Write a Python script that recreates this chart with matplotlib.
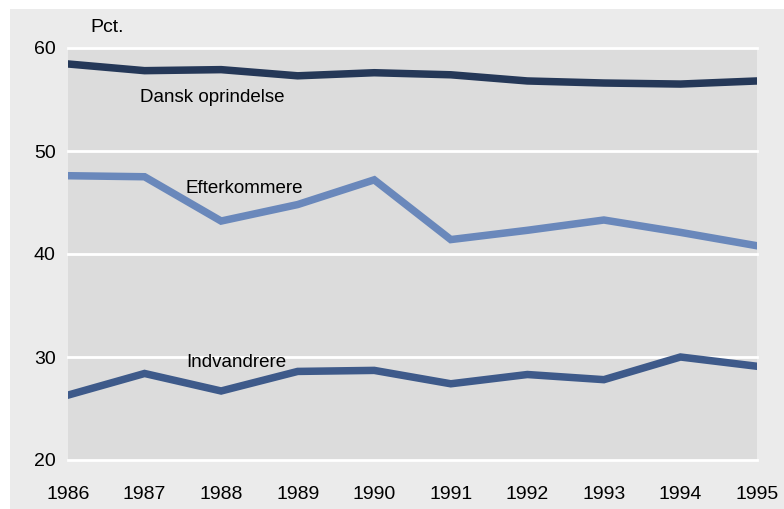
import matplotlib
matplotlib.use('Agg')
import matplotlib.pyplot as plt
from matplotlib.patches import Rectangle

years = [1986, 1987, 1988, 1989, 1990, 1991, 1992, 1993, 1994, 1995]
dansk = [58.45, 57.8, 57.9, 57.3, 57.6, 57.4, 56.8, 56.6, 56.5, 56.8]
efterkommere = [47.6, 47.5, 43.2, 44.8, 47.2, 41.4, 42.3, 43.3, 42.1, 40.8]
indvandrere = [26.3, 28.4, 26.7, 28.6, 28.7, 27.4, 28.3, 27.8, 30.0, 29.1]
y_ticks = [20, 30, 40, 50, 60]

plt.rcParams['font.family'] = ['Liberation Sans', 'DejaVu Sans']
plt.rcParams['font.size'] = 14

fig = plt.figure(figsize=(7.84, 5.09), dpi=100, facecolor='white')
# outer gray panel (white strip at top and left)
fig.patches.append(Rectangle((10/784, 0), 1, 1 - 9/509, transform=fig.transFigure,
                             facecolor='#ebebeb', edgecolor='none', zorder=0))

ax = fig.add_axes([68/784, 1 - 460/509, (757 - 68)/784, (460 - 48)/509])
ax.set_zorder(1)
ax.set_facecolor('#dcdcdc')

ax.plot(years, dansk, color='#253858', lw=5.4, solid_joinstyle='miter', zorder=3)
ax.plot(years, efterkommere, color='#6a88bb', lw=5.4, solid_joinstyle='miter', zorder=3)
ax.plot(years, indvandrere, color='#3e5a8a', lw=5.4, solid_joinstyle='miter', zorder=3)

ax.set_xlim(1986, 1995)
ax.set_ylim(20, 60)
ax.set_yticks(y_ticks)
ax.set_xticks(years)
for y in y_ticks:
    ax.axhline(y, color='white', lw=2, zorder=2, clip_on=False)
for s in ax.spines.values():
    s.set_visible(False)
ax.tick_params(length=0, labelsize=14)
ax.tick_params(axis='y', pad=9)
ax.tick_params(axis='x', pad=19)

ax.text(1986.94, 55.15, 'Dansk oprindelse', va='center', fontsize=13.5)
ax.text(1987.54, 46.4, 'Efterkommere', va='center', fontsize=13.5)
ax.text(1987.54, 29.5, 'Indvandrere', va='center', fontsize=13.5)
fig.text(90/784, 1 - 28/509, 'Pct.', va='center')

fig.savefig('out.png', dpi=100, facecolor=fig.get_facecolor())
